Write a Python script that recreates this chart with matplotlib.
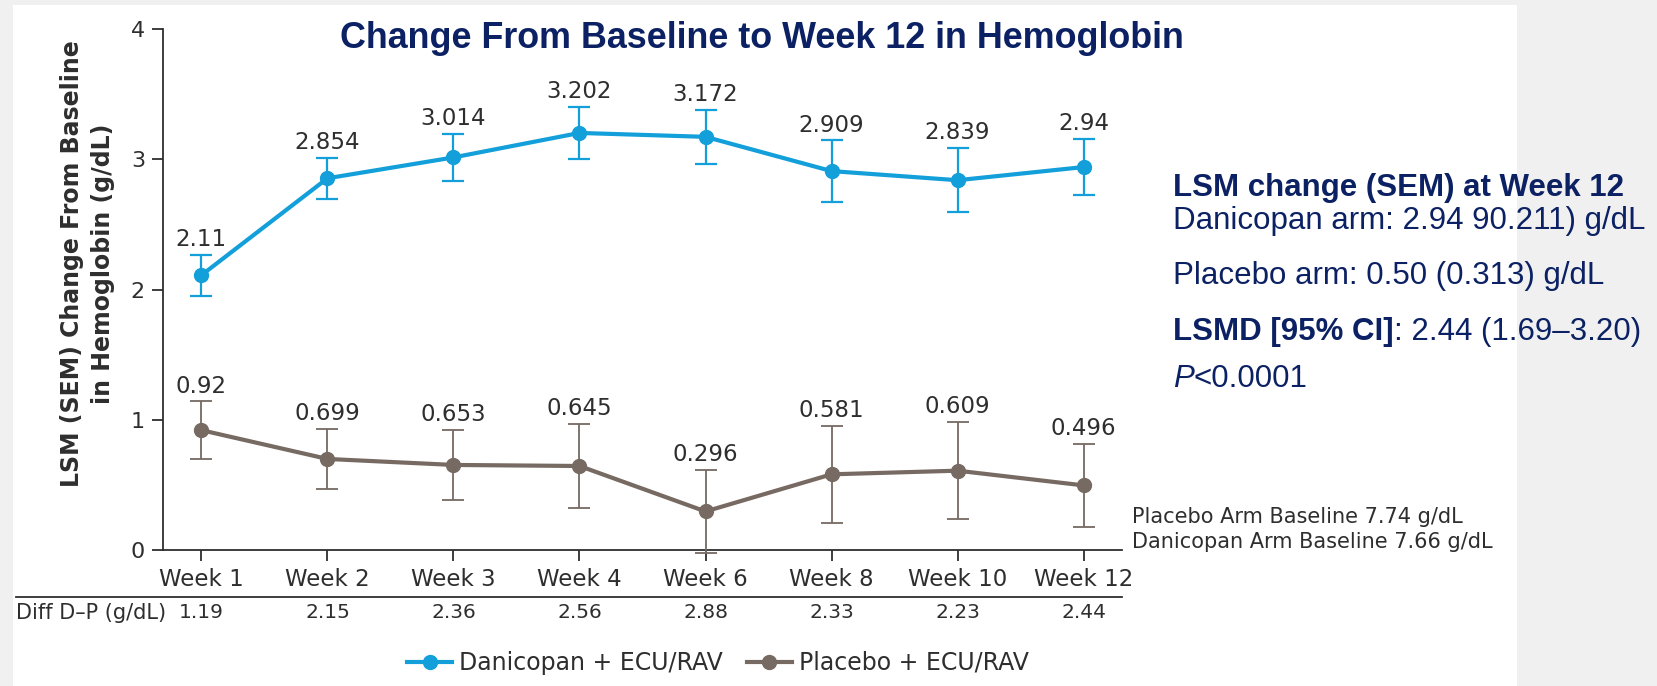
import matplotlib
matplotlib.use('Agg')
import matplotlib.pyplot as plt
import matplotlib.transforms as mtransforms
from matplotlib.lines import Line2D
from matplotlib.patches import Rectangle

weeks = ["Week 1", "Week 2", "Week 3", "Week 4", "Week 6", "Week 8", "Week 10", "Week 12"]
dani_mean = [2.11, 2.854, 3.014, 3.202, 3.172, 2.909, 2.839, 2.94]
dani_sem = [0.157, 0.157, 0.18, 0.2, 0.206, 0.235, 0.247, 0.215]
plac_mean = [0.92, 0.699, 0.653, 0.645, 0.296, 0.581, 0.609, 0.496]
plac_sem = [0.221, 0.228, 0.27, 0.324, 0.322, 0.37, 0.372, 0.318]
diff_dp = ["1.19", "2.15", "2.36", "2.56", "2.88", "2.33", "2.23", "2.44"]
dani_labels = ["2.11", "2.854", "3.014", "3.202", "3.172", "2.909", "2.839", "2.94"]
plac_labels = ["0.92", "0.699", "0.653", "0.645", "0.296", "0.581", "0.609", "0.496"]

BLUE = '#139fda'
GREY = '#766a62'
NAVY = '#0b2163'
DARK = '#2e2e2e'
W, H = 1657, 686

fig = plt.figure(figsize=(W / 100, H / 100), dpi=100)
fig.patch.set_facecolor('#f0f0f0')
fig.add_artist(Rectangle((13 / W, 0), (1517 - 13) / W, (H - 5) / H, transform=fig.transFigure,
                         facecolor='white', edgecolor='none', zorder=-10))

ax = fig.add_axes([163 / W, 1 - 550 / H, (1122 - 163) / W, (550 - 29) / H])
ax.set_facecolor('none')
x = list(range(len(weeks)))

for mean, sem, col, lab, ew in [(dani_mean, dani_sem, BLUE, dani_labels, 1.6),
                                (plac_mean, plac_sem, GREY, plac_labels, 1.3)]:
    cont = ax.errorbar(x, mean, yerr=sem, color=col, lw=3, marker='o', ms=10,
                       elinewidth=ew, capsize=8, capthick=ew, zorder=3)
    for a in list(cont.lines[1]) + list(cont.lines[2]):
        a.set_clip_on(False)
    cont.lines[0].set_clip_on(False)
    for xi, m, s, t in zip(x, mean, sem, lab):
        ax.annotate(t, (xi, m + s), xytext=(0, 11), textcoords='offset points',
                    ha='center', va='center', fontsize=16.5, color=DARK)

ax.set_xlim(-0.305, 7.305)
ax.set_ylim(0, 4)
ax.set_yticks([0, 1, 2, 3, 4])
ax.set_xticks(x, weeks)
for s in ['top', 'right']:
    ax.spines[s].set_visible(False)
for s in ['left', 'bottom']:
    ax.spines[s].set_color(DARK)
    ax.spines[s].set_linewidth(1.3)
ax.tick_params(axis='both', length=8, width=1.3, color=DARK, labelcolor=DARK, pad=5)
ax.tick_params(axis='x', labelsize=16.5)
ax.tick_params(axis='y', labelsize=16)

# y label, two lines
fig.text(72 / W, 1 - 264 / H, "LSM (SEM) Change From Baseline", rotation=90, ha='center', va='center',
         fontsize=17, fontweight='bold', color=DARK)
fig.text(103 / W, 1 - 264 / H, "in Hemoglobin (g/dL)", rotation=90, ha='center', va='center',
         fontsize=17, fontweight='bold', color=DARK)

# title
fig.text(762 / W, 1 - 39 / H, "Change From Baseline to Week 12 in Hemoglobin", ha='center', va='center',
         fontsize=25.8, fontweight='bold', color=NAVY, family='Liberation Sans')

# difference row
fig.add_artist(Line2D([16 / W, 1122 / W], [1 - 597 / H] * 2, color=DARK, lw=1.3))
fig.text(16 / W, 1 - 613 / H, "Diff D\u2013P (g/dL)", ha='left', va='center', fontsize=15, color=DARK)
tr = mtransforms.blended_transform_factory(ax.transData, fig.transFigure)
for xi, d in zip(x, diff_dp):
    ax.text(xi, 1 - 613 / H, d, transform=tr, ha='center', va='center', fontsize=14.5, color=DARK)

# baseline notes
fig.text(1132 / W, 1 - 517 / H, "Placebo Arm Baseline 7.74 g/dL", ha='left', va='center', fontsize=15, color=DARK)
fig.text(1132 / W, 1 - 542 / H, "Danicopan Arm Baseline 7.66 g/dL", ha='left', va='center', fontsize=15, color=DARK)

# legend
handles = [Line2D([], [], color=BLUE, lw=3, marker='o', ms=10),
           Line2D([], [], color=GREY, lw=3, marker='o', ms=10)]
fig.legend(handles, ["Danicopan + ECU/RAV", "Placebo + ECU/RAV"], loc='center',
           bbox_to_anchor=(718 / W, 1 - 663 / H), ncol=2, frameon=False, fontsize=17,
           handlelength=1.9, handletextpad=0.3, columnspacing=1.0, labelcolor=DARK)

# right-hand summary
rx = 1173 / W
fs = 22.5
fig.text(rx, 1 - 188 / H, "LSM change (SEM) at Week 12", ha='left', va='center', fontsize=fs,
         fontweight='bold', color=NAVY, family='Liberation Sans')
fig.text(rx, 1 - 221 / H, "Danicopan arm: 2.94 90.211) g/dL", ha='left', va='center', fontsize=fs,
         color=NAVY, family='Liberation Sans')
fig.text(rx, 1 - 276 / H, "Placebo arm: 0.50 (0.313) g/dL", ha='left', va='center', fontsize=fs,
         color=NAVY, family='Liberation Sans')
t1 = fig.text(rx, 1 - 332 / H, "LSMD [95% CI]", ha='left', va='center', fontsize=fs,
              fontweight='bold', color=NAVY, family='Liberation Sans')
ax.annotate(": 2.44 (1.69\u20133.20)", xy=(1, 0.5), xycoords=t1, ha='left', va='center', fontsize=fs,
            color=NAVY, family='Liberation Sans', annotation_clip=False)
t2 = fig.text(rx, 1 - 379 / H, "P", ha='left', va='center', fontsize=fs, style='italic',
              color=NAVY, family='Liberation Sans')
ax.annotate("<0.0001", xy=(1, 0.5), xycoords=t2, ha='left', va='center', fontsize=fs,
            color=NAVY, family='Liberation Sans', annotation_clip=False)

fig.savefig('out.png', dpi=100, facecolor=fig.get_facecolor())
